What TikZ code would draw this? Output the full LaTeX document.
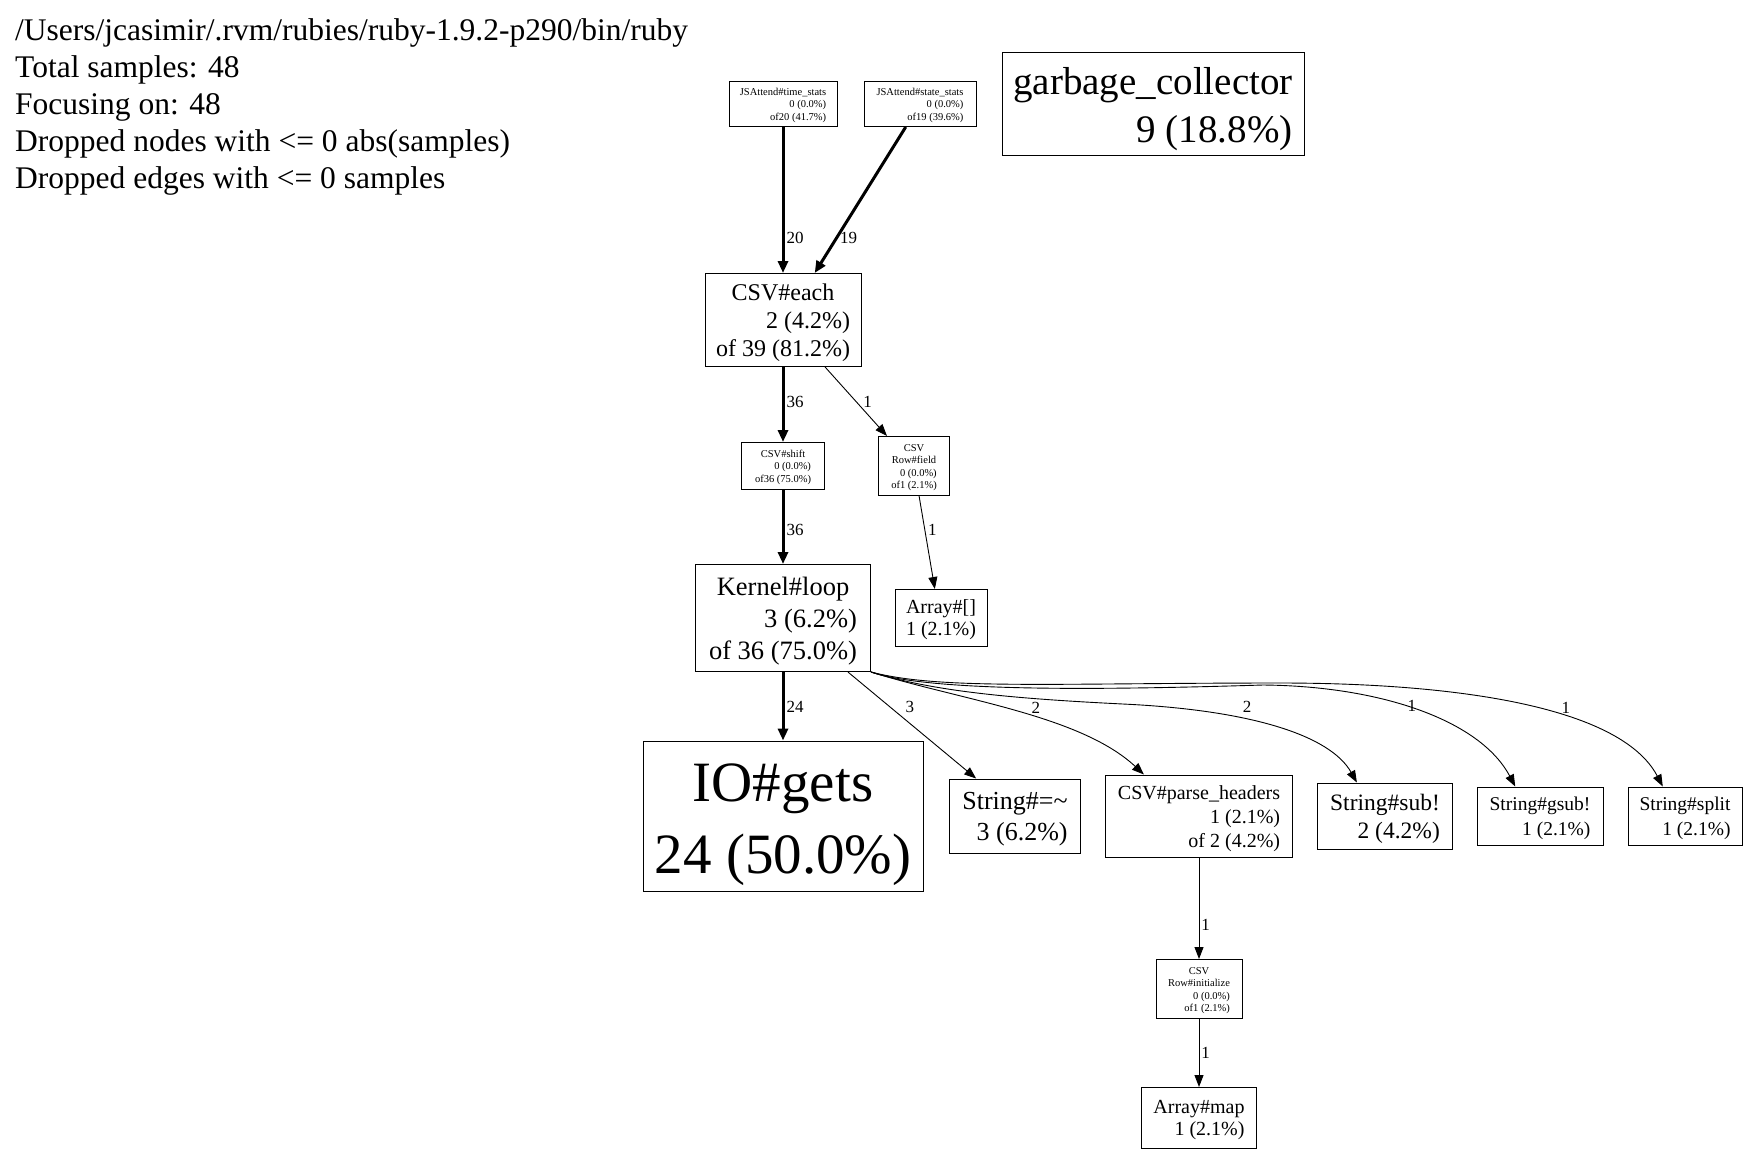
\documentclass[tikz,border=0pt]{standalone}
\usepackage{fontspec}
\setmainfont{Liberation Serif}
\usetikzlibrary{arrows.meta}

\newcommand{\fsz}[2]{\fontsize{#1}{#2}\selectfont}
\newcommand{\ctrline}[1]{\hfill#1\hfill\null}
\newcommand{\fnl}[1]{\raisebox{-0.12em}[\height][\depth]{\begin{tabular}{@{}r@{}}#1\end{tabular}}}

\begin{document}
\begin{tikzpicture}[x=1pt, y=-1pt,
  fn/.style={rectangle, draw, line width=1pt, inner sep=0pt},
  elab/.style={font={\fsz{17}{20}}, inner sep=1pt},
  hot/.style={line width=3pt, -{Triangle[length=12pt,width=10pt]}},
  cold/.style={line width=0.9pt, -{Triangle[length=12pt,width=9pt]}}]
  \useasboundingbox (0,0) rectangle (1747,1152);

  \node[anchor=north west, align=left, inner sep=0pt, font={\fsz{31.5}{37}}] (info) at (15,18.5) {/Users/jcasimir/.rvm/rubies/ruby-1.9.2-p290/bin/ruby\\Total samples: 48\\Focusing on: 48\\Dropped nodes with <= 0 abs(samples)\\Dropped edges with <= 0 samples};

  \node[fn, font={\fsz{10.5}{12.5}}, minimum width=108pt, minimum height=45pt] (ts) at (783,104) {\fnl{\ctrline{JSAttend\#time\_stats}\\0 (0.0\%)\\of20 (41.7\%)}};
  \node[fn, font={\fsz{10.5}{12.5}}, minimum width=112pt, minimum height=45pt] (ss) [right of=ts, node distance=137pt] {\fnl{\ctrline{JSAttend\#state\_stats}\\0 (0.0\%)\\of19 (39.6\%)}};
  \node[fn, font={\fsz{39}{48}}, minimum width=302pt, minimum height=103pt] (gc) [right of=ss, node distance=233pt] {\fnl{\ctrline{garbage\_collector}\\9 (18.8\%)}};
  \node[fn, font={\fsz{24}{28}}, minimum width=156pt, minimum height=93pt] (each) [below of=ts, node distance=216pt] {\fnl{\ctrline{CSV\#each}\\2 (4.2\%)\\of 39 (81.2\%)}};
  \node[fn, font={\fsz{10.5}{12.5}}, minimum width=83pt, minimum height=47pt] (shift) [below of=each, node distance=146pt] {\fnl{\ctrline{CSV\#shift}\\0 (0.0\%)\\of36 (75.0\%)}};
  \node[fn, font={\fsz{10.5}{12.5}}, minimum width=71pt, minimum height=59pt] (field) [right of=shift, node distance=131pt] {\fnl{\ctrline{CSV}\\\ctrline{Row\#field}\\0 (0.0\%)\\of1 (2.1\%)}};
  \node[fn, font={\fsz{26.5}{32}}, minimum width=175pt, minimum height=107pt] (loop) [below of=shift, node distance=152pt] {\fnl{\ctrline{Kernel\#loop}\\3 (6.2\%)\\of 36 (75.0\%)}};
  \node[fn, font={\fsz{20}{22}}, minimum width=92pt, minimum height=57pt] (arr) [right of=loop, node distance=158pt] {\fnl{\ctrline{Array\#[]}\\1 (2.1\%)}};
  \node[fn, font={\fsz{57}{72}}, minimum width=280pt, minimum height=150pt] (gets) [below of=loop, node distance=198pt] {\fnl{\ctrline{IO\#gets}\\24 (50.0\%)}};
  \node[fn, font={\fsz{26}{31}}, minimum width=131pt, minimum height=74pt] (match) [right of=gets, node distance=232pt] {\fnl{\ctrline{String\#=\textasciitilde}\\3 (6.2\%)}};
  \node[fn, font={\fsz{20}{24}}, minimum width=187pt, minimum height=82pt] (ph) [right of=match, node distance=184pt] {\fnl{\ctrline{CSV\#parse\_headers}\\1 (2.1\%)\\of 2 (4.2\%)}};
  \node[fn, font={\fsz{23.5}{28}}, minimum width=135pt, minimum height=66pt] (sub) [right of=ph, node distance=186pt] {\fnl{\ctrline{String\#sub!}\\2 (4.2\%)}};
  \node[fn, font={\fsz{19.5}{25}}, minimum width=126pt, minimum height=58pt] (gsub) [right of=sub, node distance=155pt] {\fnl{\ctrline{String\#gsub!}\\1 (2.1\%)}};
  \node[fn, font={\fsz{19.5}{25}}, minimum width=114pt, minimum height=58pt] (split) [right of=gsub, node distance=145pt] {\fnl{\ctrline{String\#split}\\1 (2.1\%)}};
  \node[fn, font={\fsz{10.5}{12.5}}, minimum width=86pt, minimum height=59pt] (ri) [below of=ph, node distance=173pt] {\fnl{\ctrline{CSV}\\\ctrline{Row\#initialize}\\0 (0.0\%)\\of1 (2.1\%)}};
  \node[fn, font={\fsz{20}{22}}, minimum width=115pt, minimum height=61pt] (map) [below of=ri, node distance=129pt] {\fnl{\ctrline{Array\#map}\\1 (2.1\%)}};

  \draw[hot] (ts) -- (each) node[elab, pos=0.76, right=1pt] {20};
  \draw[hot] (ss) -- (each.56) node[elab, pos=0.76, right=1pt] {19};
  \draw[hot] (each) -- (shift) node[elab, pos=0.47, right=1pt] {36};
  \draw[cold] (each) -- (field.132) node[elab, pos=0.5, right=6pt] {1};
  \draw[hot] (shift) -- (loop) node[elab, pos=0.54, right=1pt] {36};
  \draw[cold] (field) -- (arr.102) node[elab, pos=0.36, right=2pt] {1};
  \draw[hot] (loop) -- (gets) node[elab, pos=0.51, right=1pt] {24};
  \draw[cold] (loop) -- (match.136) node[elab, pos=0.33, right=14pt] {3};
  \draw[cold] (loop.south east) .. controls (960,700) and (1080,715) .. (ph.143) node[elab, pos=0.565, yshift=10pt] {2};
  \draw[cold] (loop.south east) .. controls (930,690) and (1000,698) .. (1123,704) .. controls (1250,710) and (1330,735) .. (sub.130) node[elab, pos=0.38, yshift=12pt] {2};
  \draw[cold] (loop.south east) .. controls (930,692) and (1100,690) .. (1263,685) .. controls (1380,686) and (1480,720) .. (gsub.130) node[elab, pos=0.47, yshift=2pt] {1};
  \draw[cold] (loop.south east) .. controls (940,690) and (1050,683) .. (1280,683) .. controls (1450,683) and (1620,705) .. (split.127) node[elab, pos=0.62, yshift=9pt] {1};
  \draw[cold] (ph) -- (ri) node[elab, pos=0.66, right=1pt] {1};
  \draw[cold] (ri) -- (map) node[elab, pos=0.5, right=1pt] {1};
\end{tikzpicture}
\end{document}
